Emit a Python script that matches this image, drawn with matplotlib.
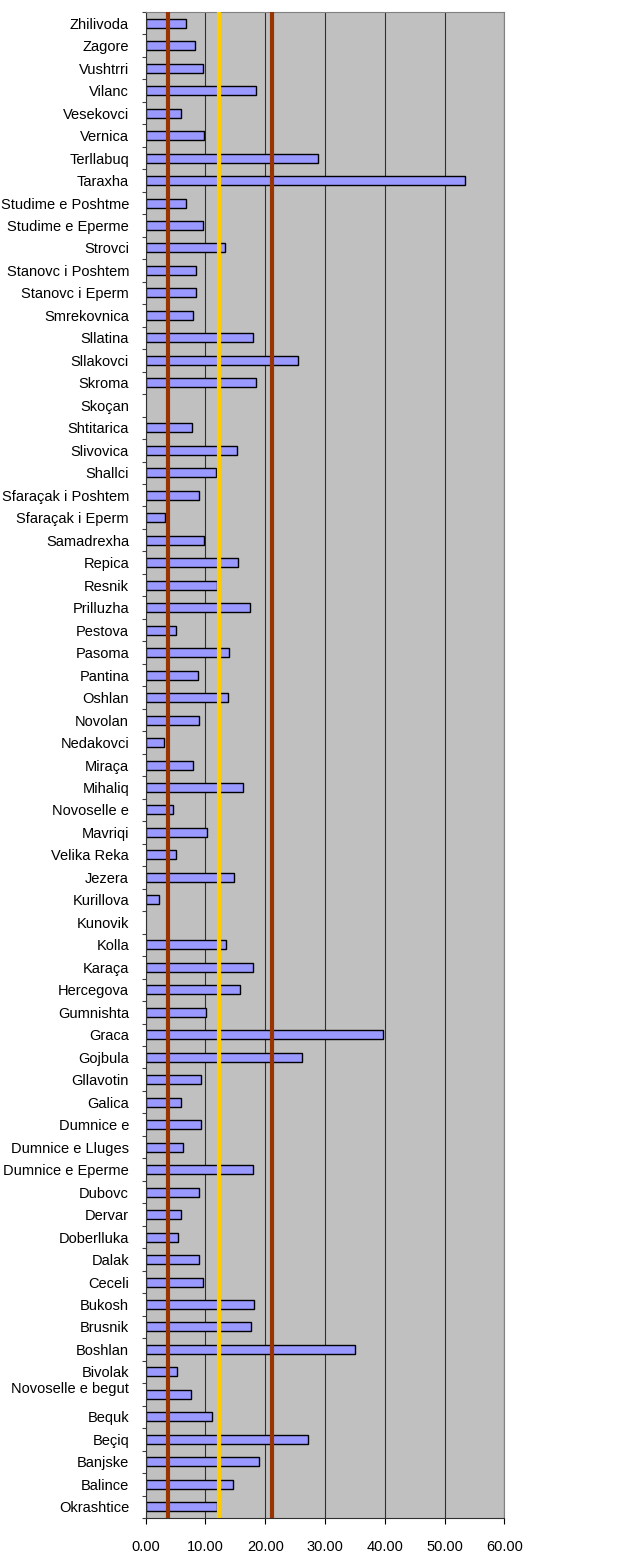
"""Horizontal bar chart of village values with reference lines."""

import matplotlib.pyplot as plt
import numpy as np

plt.rcParams['font.family'] = ['Liberation Sans', 'DejaVu Sans']

# top to bottom, as in the picture
villages = [
    'Zhilivoda', 'Zagore', 'Vushtrri', 'Vilanc', 'Vesekovci', 'Vernica',
    'Terllabuq', 'Taraxha', 'Studime e Poshtme', 'Studime e Eperme', 'Strovci',
    'Stanovc i Poshtem', 'Stanovc i Eperm', 'Smrekovnica', 'Sllatina',
    'Sllakovci', 'Skroma', 'Skoçan', 'Shtitarica', 'Slivovica', 'Shallci',
    'Sfaraçak i Poshtem', 'Sfaraçak i Eperm', 'Samadrexha', 'Repica', 'Resnik',
    'Prilluzha', 'Pestova', 'Pasoma', 'Pantina', 'Oshlan', 'Novolan',
    'Nedakovci', 'Miraça', 'Mihaliq', 'Novoselle e', 'Mavriqi', 'Velika Reka',
    'Jezera', 'Kurillova', 'Kunovik', 'Kolla', 'Karaça', 'Hercegova',
    'Gumnishta', 'Graca', 'Gojbula', 'Gllavotin', 'Galica', 'Dumnice e',
    'Dumnice e Lluges', 'Dumnice e Eperme', 'Dubovc', 'Dervar', 'Doberlluka',
    'Dalak', 'Ceceli', 'Bukosh', 'Brusnik', 'Boshlan', 'Bivolak',
    'Novoselle e begut\n', 'Bequk', 'Beçiq', 'Banjske', 'Balince', 'Okrashtice',
]
values = [
    6.7, 8.2, 9.6, 18.4, 5.9, 9.8,
    28.8, 53.4, 6.7, 9.6, 13.2,
    8.5, 8.5, 8.0, 17.9,
    25.4, 18.4, np.nan, 7.7, 15.2, 11.8,
    9.0, 3.3, 9.8, 15.5, 11.9,
    17.4, 5.1, 14.0, 8.8, 13.7, 9.0,
    3.0, 8.0, 16.3, 4.6, 10.3, 5.1,
    14.7, 2.3, np.nan, 13.5, 17.9, 15.8,
    10.1, 39.7, 26.2, 9.3, 5.9, 9.3,
    6.2, 17.9, 9.0, 5.9, 5.4,
    9.0, 9.6, 18.1, 17.6, 35.0, 5.2,
    7.5, 11.1, 27.2, 18.9, 14.6, 12.0,
]
ref_low = 3.8
ref_mid = 12.3
ref_high = 21.2

fig = plt.figure(figsize=(6.37, 15.53), dpi=100)
ax = fig.add_axes([0.2287, 0.0225, 0.563, 0.9698])
ax.set_facecolor('#C0C0C0')

n = len(villages)
y = np.arange(n)[::-1]
ax.barh(y, values, height=0.4, color='#9999FF', edgecolor='black',
        linewidth=1.0, zorder=2)

for xv, c in [(ref_low, '#993300'), (ref_mid, '#FFCC00'), (ref_high, '#993300')]:
    ax.axvline(xv, color=c, lw=3, zorder=3)

ax.set_xlim(0, 60)
ax.set_ylim(-0.5, n - 0.5)
ax.set_xticks(np.arange(0, 61, 10))
ax.set_xticklabels([f'{v:.2f}' for v in np.arange(0, 61, 10)], fontsize=10.5)
ax.xaxis.grid(True, color='#303030', lw=0.8, zorder=1)
ax.set_axisbelow(True)

ax.set_yticks(y)
ax.set_yticklabels(villages, fontsize=10.5, linespacing=1.3)
ax.set_yticks(np.arange(-0.5, n, 1), minor=True)
ax.tick_params(axis='y', which='major', length=0, pad=12)
ax.tick_params(axis='y', which='minor', length=3, width=0.8, color='#404040')
ax.tick_params(axis='x', length=4, width=0.8, pad=12)

for side in ['top', 'right']:
    ax.spines[side].set_color('#808080')
for side in ['left', 'bottom']:
    ax.spines[side].set_color('#303030')

fig.savefig('out.png', dpi=100)
